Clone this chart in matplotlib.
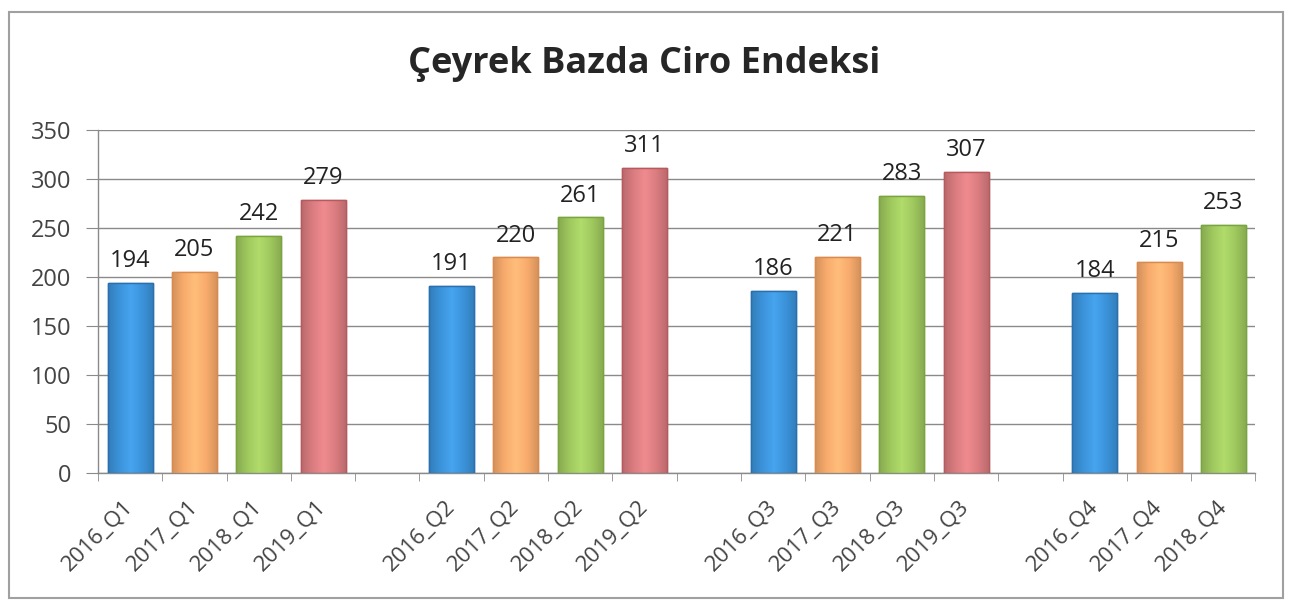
import numpy as np
import matplotlib
matplotlib.use("Agg")
import matplotlib.pyplot as plt
from matplotlib.patches import Rectangle
from matplotlib.colors import LinearSegmentedColormap, to_rgb

title = "Çeyrek Bazda Ciro Endeksi"
categories = ["2016_Q1", "2017_Q1", "2018_Q1", "2019_Q1", "",
              "2016_Q2", "2017_Q2", "2018_Q2", "2019_Q2", "",
              "2016_Q3", "2017_Q3", "2018_Q3", "2019_Q3", "",
              "2016_Q4", "2017_Q4", "2018_Q4"]
values = [194, 205, 242, 279, np.nan,
          191, 220, 261, 311, np.nan,
          186, 221, 283, 307, np.nan,
          184, 215, 253]
year_colors = {"2016": "#3b93da", "2017": "#f8ab6c", "2018": "#9fc85e", "2019": "#da7c80"}
year_edges = {"2016": "#2a6fae", "2017": "#d98a4e", "2018": "#7aa43e", "2019": "#b65a5e"}
yticks = [0, 50, 100, 150, 200, 250, 300, 350]

plt.rcParams['font.family'] = ['Open Sans', 'DejaVu Sans']
fig = plt.figure(figsize=(12.89, 6.05), dpi=100)
fig.patch.set_facecolor("white")
fig.add_artist(Rectangle((0.007, 0.012), 0.988, 0.968, transform=fig.transFigure,
                         fill=False, edgecolor="#a0a0a0", linewidth=1.5))

ax = fig.add_axes([0.076, 0.218, 0.898, 0.567])
x = np.arange(len(categories))
grad = np.linspace(0, 1, 64)
grad = 1 - np.abs(grad - 0.5) * 2  # 0 at edges, 1 at centre
grad = grad[np.newaxis, :]
for xi, lab, v in zip(x, categories, values):
    if not lab or np.isnan(v):
        continue
    yr = lab[:4]
    base = np.array(to_rgb(year_colors[yr]))
    dark = base * 0.85
    light = np.minimum(base * 1.06 + 0.03, 1)
    cmap = LinearSegmentedColormap.from_list("g", [dark, base, light])
    bars = ax.bar(xi, v, width=0.7, color=year_colors[yr], edgecolor=year_edges[yr], linewidth=1.0, zorder=3)
    p = bars[0]
    im = ax.imshow(grad, cmap=cmap, aspect="auto", extent=(xi - 0.35, xi + 0.35, 0, v), zorder=3.5)
    im.set_clip_path(p)
    ax.bar(xi, v, width=0.7, fill=False, edgecolor=year_edges[yr], linewidth=1.0, zorder=3.6)
    ax.text(xi, v + 10, f"{int(v)}", ha="center", va="bottom", fontsize=17, color="#222222", zorder=4)

ax.set_xlim(-0.5, len(categories) - 0.5)
ax.set_ylim(0, 350)
ax.set_yticks(yticks)
ax.set_yticklabels([str(t) for t in yticks], fontsize=17, color="#444444")
ax.yaxis.grid(True, color="#8a8a8a", linewidth=1.0, zorder=0)
ax.set_axisbelow(True)

ax.set_xticks(x)
ax.set_xticklabels(categories, rotation=45, ha="right", va="center", rotation_mode="anchor",
                   fontsize=16, color="#444444")
ax.tick_params(axis="x", length=0, pad=22)
ax.set_xticks(np.arange(-0.5, len(categories)), minor=True)
ax.tick_params(axis="x", which="minor", length=6, color="#8a8a8a", direction="out")
ax.tick_params(axis="y", length=9, color="#8a8a8a", direction="out", pad=10)

for s in ["top", "right"]:
    ax.spines[s].set_visible(False)
for s in ["left", "bottom"]:
    ax.spines[s].set_color("#8a8a8a")
    ax.spines[s].set_linewidth(1.0)

fig.text(0.5, 0.895, title, ha="center", va="center", fontsize=26, fontweight="bold", color="#262626")

fig.savefig("out.png", dpi=100, facecolor="white")
